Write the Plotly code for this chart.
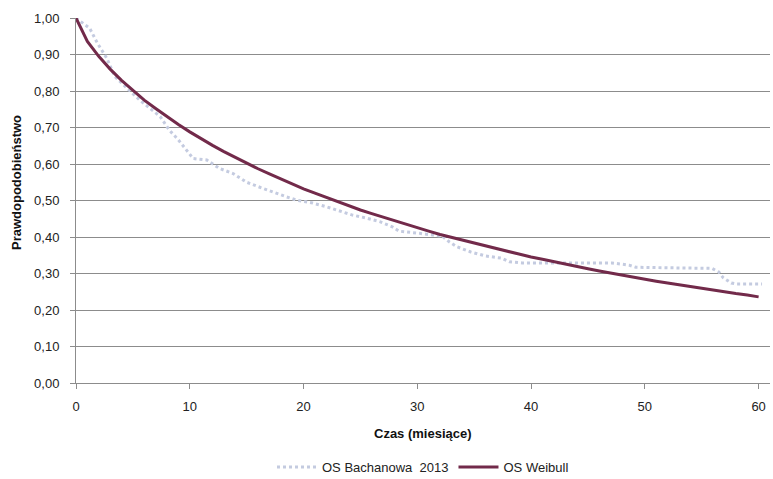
import plotly.graph_objects as go

# Months 0..60
months = list(range(0, 61))

# OS Weibull
weibull = [1.000, 0.936, 0.895, 0.860, 0.829, 0.801, 0.775, 0.752, 0.729, 0.708,
           0.688, 0.669, 0.651, 0.634, 0.618, 0.602, 0.587, 0.573, 0.559, 0.545,
           0.532, 0.520, 0.508, 0.497, 0.485, 0.474, 0.464, 0.454, 0.444, 0.434,
           0.425, 0.416, 0.407, 0.399, 0.391, 0.383, 0.375, 0.367, 0.360, 0.352,
           0.345, 0.339, 0.332, 0.326, 0.319, 0.313, 0.307, 0.301, 0.295, 0.290,
           0.284, 0.279, 0.274, 0.269, 0.264, 0.259, 0.254, 0.250, 0.245, 0.241,
           0.236]

# OS Bachanowa 2013 (Kaplan-Meier)
bach_t = [0, 1.2, 1.9, 2.7, 3.4, 5.6, 7.4, 8.2, 9.0, 9.7, 10.3, 11.5, 12.6, 13.8,
          15.0, 16.1, 17.3, 18.5, 19.4, 20.8, 22.0, 23.2, 24.3, 25.5, 26.7, 27.8,
          28.4, 30.2, 32.2, 32.8, 33.5, 34.7, 36.0, 37.4, 38.1, 39.2, 40.7, 47.1,
          48.6, 49.2, 55.9, 56.5, 56.9, 57.6, 58.1, 60.3]
bach_s = [1.000, 0.972, 0.930, 0.890, 0.840, 0.775, 0.730, 0.693, 0.666, 0.638,
          0.615, 0.611, 0.588, 0.574, 0.550, 0.537, 0.523, 0.510, 0.501, 0.493,
          0.483, 0.472, 0.460, 0.452, 0.442, 0.428, 0.416, 0.410, 0.402, 0.387,
          0.373, 0.359, 0.348, 0.342, 0.332, 0.329, 0.329, 0.329, 0.323, 0.317,
          0.314, 0.304, 0.288, 0.274, 0.271, 0.271]

y_ticks = [0.0, 0.1, 0.2, 0.3, 0.4, 0.5, 0.6, 0.7, 0.8, 0.9, 1.0]
x_ticks = [0, 10, 20, 30, 40, 50, 60]

FONT = "Liberation Sans Narrow, Liberation Sans, Arial, sans-serif"
GRID = "#8c8c8c"

fig = go.Figure()
fig.add_trace(go.Scatter(
    x=bach_t, y=bach_s, mode="lines", name="OS Bachanowa  2013",
    line=dict(color="#c4cbe0", width=3, dash="dot"),
))
fig.add_trace(go.Scatter(
    x=months, y=weibull, mode="lines", name="OS Weibull",
    line=dict(color="#722a4a", width=3),
))

fig.update_layout(
    width=773, height=479,
    margin=dict(l=76, r=3, t=18, b=96, autoexpand=False),
    paper_bgcolor="white", plot_bgcolor="white",
    separators=", ",
    font=dict(family=FONT, size=13, color="#222222"),
    showlegend=True,
    legend=dict(orientation="h", x=0.5, xanchor="center", y=-0.230, yanchor="middle",
                font=dict(family=FONT, size=13, color="#222222"),
                itemwidth=40, tracegroupgap=0),
    annotations=[
        dict(text="<b>Czas (miesiące)</b>", xref="paper", yref="paper",
             x=0.5, y=-0.137, xanchor="center", yanchor="middle", showarrow=False,
             font=dict(family=FONT, size=13, color="#111111")),
        dict(text="<b>Prawdopodobieństwo</b>", xref="paper", yref="paper",
             x=-0.085, y=0.548, xanchor="center", yanchor="middle", showarrow=False,
             textangle=-90, font=dict(family=FONT, size=13, color="#111111")),
    ],
)
fig.update_xaxes(
    range=[0, 61], tickvals=x_ticks, ticktext=[str(v) for v in x_ticks],
    showgrid=False, zeroline=False,
    showline=True, linecolor=GRID, linewidth=1,
    ticks="outside", ticklen=5, tickcolor=GRID, ticklabelstandoff=6,
)
fig.update_yaxes(
    range=[0, 1.0], tickvals=y_ticks, tickformat=".2f",
    showgrid=True, gridcolor=GRID, gridwidth=1, zeroline=False,
    showline=True, linecolor=GRID, linewidth=1,
    ticks="outside", ticklen=5, tickcolor=GRID, ticklabelstandoff=8,
)

fig.write_html("out.html")
